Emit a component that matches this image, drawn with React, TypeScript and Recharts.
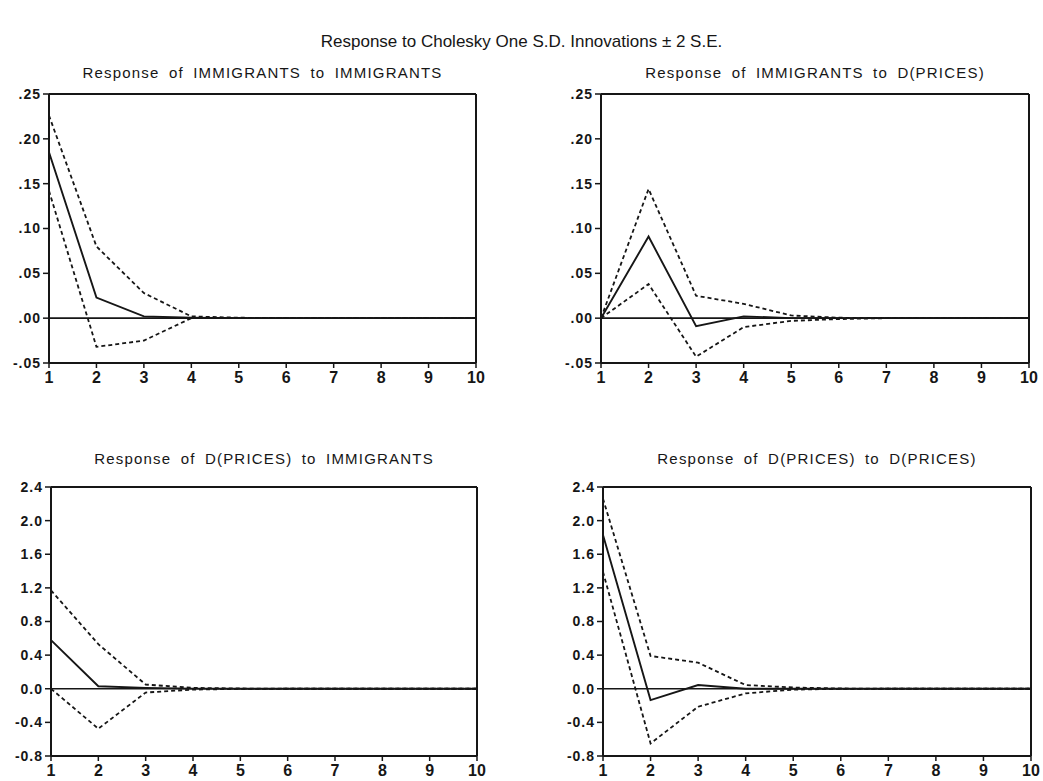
import { LineChart, Line, XAxis, YAxis, ReferenceLine } from "recharts";

// impulse response horizons
const periods = [1, 2, 3, 4, 5, 6, 7, 8, 9, 10];

// Response of IMMIGRANTS to IMMIGRANTS
const immImmResp = [0.185, 0.023, 0.002, 0.0005, 0, 0, 0, 0, 0, 0];
const immImmUpper = [0.226, 0.08, 0.028, 0.002, 0.0005, 0, 0, 0, 0, 0];
const immImmLower = [0.142, -0.032, -0.025, 0.0, 0, 0, 0, 0, 0, 0];

// Response of IMMIGRANTS to D(PRICES)
const immPrcResp = [0, 0.091, -0.009, 0.002, 0, 0, 0, 0, 0, 0];
const immPrcUpper = [0, 0.144, 0.025, 0.016, 0.003, 0.0005, 0, 0, 0, 0];
const immPrcLower = [0, 0.038, -0.043, -0.01, -0.003, -0.001, 0, 0, 0, 0];

// Response of D(PRICES) to IMMIGRANTS
const prcImmResp = [0.578, 0.03, 0.01, 0.002, 0, 0, 0, 0, 0, 0];
const prcImmUpper = [1.17, 0.53, 0.05, 0.01, 0.003, 0, 0, 0, 0, 0];
const prcImmLower = [0.0, -0.475, -0.045, -0.01, -0.002, 0, 0, 0, 0, 0];

// Response of D(PRICES) to D(PRICES)
const prcPrcResp = [1.83, -0.135, 0.044, 0.0, 0, 0, 0, 0, 0, 0];
const prcPrcUpper = [2.26, 0.39, 0.31, 0.044, 0.015, 0.003, 0, 0, 0, 0];
const prcPrcLower = [1.39, -0.65, -0.214, -0.055, -0.01, -0.002, 0, 0, 0, 0];

const smallTicks = [-0.05, 0, 0.05, 0.1, 0.15, 0.2, 0.25];
const bigTicks = [-0.8, -0.4, 0, 0.4, 0.8, 1.2, 1.6, 2.0, 2.4];

const INK = "#161616";
const FONT = "'Liberation Sans', Arial, sans-serif";

function buildRows(resp: number[], upper: number[], lower: number[]) {
  return periods.map((p, i) => ({ period: p, resp: resp[i], upper: upper[i], lower: lower[i] }));
}

function fmtSmall(v: number): string {
  const s = v.toFixed(2);
  return s.replace("0.", ".");
}

function fmtBig(v: number): string {
  return v.toFixed(1);
}

interface PanelProps {
  title: string;
  titleY: number;
  plotLeft: number;
  plotTop: number;
  plotRight: number;
  plotBottom: number;
  rows: { period: number; resp: number; upper: number; lower: number }[];
  ticks: number[];
  fmt: (v: number) => string;
}

function Panel({ title, titleY, plotLeft, plotTop, plotRight, plotBottom, rows, ticks, fmt }: PanelProps) {
  const yw = 50;
  const width = plotRight - plotLeft + yw + 20;
  const height = plotBottom - plotTop + 10 + 30;
  const yMin = ticks[0];
  const yMax = ticks[ticks.length - 1];
  return (
    <>
      <div
        style={{
          position: "absolute",
          left: plotLeft - 20,
          width: plotRight - plotLeft + 40,
          top: titleY - 9,
          lineHeight: "18px",
          textAlign: "center",
          fontFamily: FONT,
          fontSize: 15,
          letterSpacing: 1.2,
          wordSpacing: 4,
          color: INK,
          whiteSpace: "nowrap",
        }}
      >
        {title}
      </div>
      <div style={{ position: "absolute", left: plotLeft - yw, top: plotTop - 10 }}>
        <LineChart width={width} height={height} data={rows} margin={{ top: 10, right: 20, bottom: 0, left: 0 }}>
          <XAxis
            dataKey="period"
            type="number"
            domain={[1, 10]}
            ticks={periods}
            height={30}
            tickSize={5}
            fontSize={16}
            fontFamily={FONT}
            axisLine={{ stroke: INK, strokeWidth: 2 }}
            tickLine={{ stroke: INK, strokeWidth: 1.5 }}
            tick={{ fill: INK, fontSize: 16, fontFamily: FONT, fontWeight: 600 }}
            tickMargin={4}
          />
          <YAxis
            type="number"
            domain={[yMin, yMax]}
            ticks={ticks}
            width={yw}
            tickSize={6}
            fontSize={14}
            fontFamily={FONT}
            tickFormatter={fmt}
            axisLine={{ stroke: INK, strokeWidth: 2 }}
            tickLine={{ stroke: INK, strokeWidth: 1.5 }}
            tick={{ fill: INK, fontSize: 14, fontFamily: FONT, fontWeight: 600, letterSpacing: 1 }}
            tickMargin={2}
            interval={0}
          />
          <ReferenceLine y={yMax} stroke={INK} strokeWidth={2} />
          <ReferenceLine x={10} stroke={INK} strokeWidth={2} />
          <ReferenceLine y={0} stroke={INK} strokeWidth={1.6} />
          <Line dataKey="upper" stroke={INK} strokeWidth={1.8} strokeDasharray="4 3" dot={false} isAnimationActive={false} />
          <Line dataKey="lower" stroke={INK} strokeWidth={1.8} strokeDasharray="4 3" dot={false} isAnimationActive={false} />
          <Line dataKey="resp" stroke={INK} strokeWidth={1.9} dot={false} isAnimationActive={false} />
        </LineChart>
      </div>
    </>
  );
}

export default function App() {
  return (
    <div style={{ position: "absolute", left: 0, top: 0, width: 1043, height: 781, background: "#fff" }}>
      <div
        style={{
          position: "absolute",
          left: 0,
          width: 1043,
          top: 31,
          lineHeight: "22px",
          textAlign: "center",
          fontFamily: FONT,
          fontSize: 17,
          color: INK,
        }}
      >
        Response to Cholesky One S.D. Innovations ± 2 S.E.
      </div>
      <Panel
        title="Response of IMMIGRANTS to IMMIGRANTS"
        titleY={73}
        plotLeft={49}
        plotTop={94}
        plotRight={476}
        plotBottom={363}
        rows={buildRows(immImmResp, immImmUpper, immImmLower)}
        ticks={smallTicks}
        fmt={fmtSmall}
      />
      <Panel
        title="Response of IMMIGRANTS to D(PRICES)"
        titleY={73}
        plotLeft={601}
        plotTop={94}
        plotRight={1029}
        plotBottom={363}
        rows={buildRows(immPrcResp, immPrcUpper, immPrcLower)}
        ticks={smallTicks}
        fmt={fmtSmall}
      />
      <Panel
        title="Response of D(PRICES) to IMMIGRANTS"
        titleY={459}
        plotLeft={51}
        plotTop={487}
        plotRight={477}
        plotBottom={756}
        rows={buildRows(prcImmResp, prcImmUpper, prcImmLower)}
        ticks={bigTicks}
        fmt={fmtBig}
      />
      <Panel
        title="Response of D(PRICES) to D(PRICES)"
        titleY={459}
        plotLeft={603}
        plotTop={487}
        plotRight={1031}
        plotBottom={756}
        rows={buildRows(prcPrcResp, prcPrcUpper, prcPrcLower)}
        ticks={bigTicks}
        fmt={fmtBig}
      />
    </div>
  );
}
